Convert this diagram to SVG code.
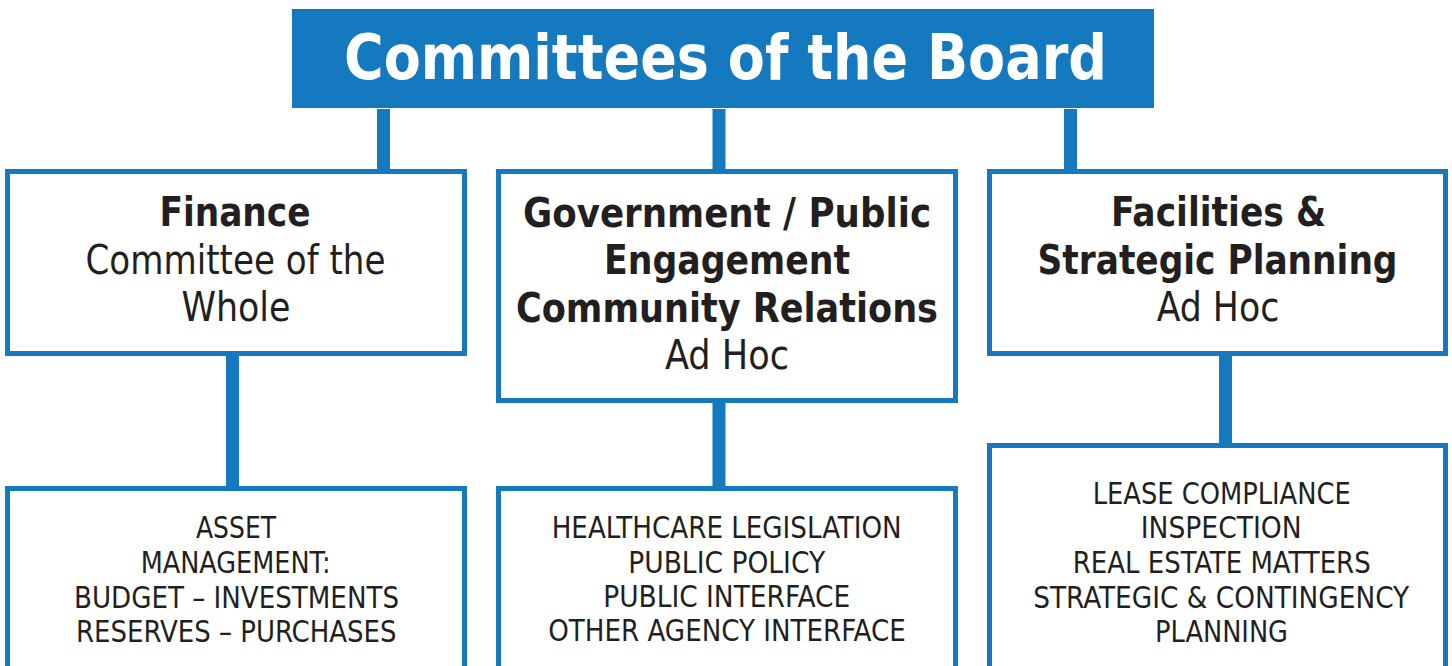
<svg xmlns="http://www.w3.org/2000/svg" width="1452" height="666" viewBox="0 0 1452 666">
<style>
.box{fill:#ffffff;stroke:#1479bf;stroke-width:5}
.conn{stroke:#1479bf;stroke-width:13;fill:none}
.t{font-family:"DejaVu Sans Condensed","DejaVu Sans",sans-serif;fill:#231f20;text-anchor:middle}
.b{font-weight:bold;font-size:41px}
.r{font-size:40.5px}
.s{font-size:30px}
.title{font-family:"DejaVu Sans Condensed","DejaVu Sans",sans-serif;font-weight:bold;font-size:63px;fill:#ffffff;text-anchor:middle}
</style>
<rect x="0" y="0" width="1452" height="666" fill="#ffffff"/>
<g id="connectors">
<line class="conn" x1="383.5" y1="109" x2="383.5" y2="171"/>
<line class="conn" x1="719" y1="109" x2="719" y2="171"/>
<line class="conn" x1="1070.5" y1="109" x2="1070.5" y2="171"/>
<line class="conn" x1="232.5" y1="354" x2="232.5" y2="488"/>
<line class="conn" x1="719" y1="400" x2="719" y2="488"/>
<line class="conn" x1="1225.5" y1="354" x2="1225.5" y2="445"/>
</g>
<g id="title">
<rect x="292" y="9" width="862" height="99" fill="#1479bf"/>
<text class="title" x="725.5" y="79" textLength="763" lengthAdjust="spacingAndGlyphs">Committees of the Board</text>
</g>
<g id="finance">
<rect class="box" x="7.5" y="171.5" width="457" height="182"/>
<text class="t b" x="235" y="226" textLength="151" lengthAdjust="spacingAndGlyphs">Finance</text>
<text class="t r" x="235.5" y="273.5" textLength="300" lengthAdjust="spacingAndGlyphs">Committee of the</text>
<text class="t r" x="236" y="321" textLength="109" lengthAdjust="spacingAndGlyphs">Whole</text>
</g>
<g id="government">
<rect class="box" x="498.5" y="171.5" width="457" height="229"/>
<text class="t b" x="727" y="226.5" textLength="408" lengthAdjust="spacingAndGlyphs">Government / Public</text>
<text class="t b" x="727" y="274" textLength="246" lengthAdjust="spacingAndGlyphs">Engagement</text>
<text class="t b" x="727" y="321.5" textLength="422" lengthAdjust="spacingAndGlyphs">Community Relations</text>
<text class="t r" x="727" y="369" textLength="124" lengthAdjust="spacingAndGlyphs">Ad Hoc</text>
</g>
<g id="facilities">
<rect class="box" x="989.5" y="171.5" width="456" height="182"/>
<text class="t b" x="1218.5" y="225.5" textLength="215" lengthAdjust="spacingAndGlyphs">Facilities &amp;</text>
<text class="t b" x="1217.5" y="273.5" textLength="360" lengthAdjust="spacingAndGlyphs">Strategic Planning</text>
<text class="t r" x="1218" y="321" textLength="122.5" lengthAdjust="spacingAndGlyphs">Ad Hoc</text>
</g>
<g id="finance-duties">
<rect class="box" x="7.5" y="488.5" width="457" height="220"/>
<text class="t s" x="236" y="538.3" textLength="80" lengthAdjust="spacingAndGlyphs">ASSET</text>
<text class="t s" x="235.7" y="573.3" textLength="190" lengthAdjust="spacingAndGlyphs">MANAGEMENT:</text>
<text class="t s" x="236.5" y="608" textLength="325" lengthAdjust="spacingAndGlyphs">BUDGET – INVESTMENTS</text>
<text class="t s" x="236.3" y="641.7" textLength="320.5" lengthAdjust="spacingAndGlyphs">RESERVES – PURCHASES</text>
</g>
<g id="government-duties">
<rect class="box" x="498.5" y="488.5" width="457" height="220"/>
<text class="t s" x="726.7" y="537.7" textLength="350" lengthAdjust="spacingAndGlyphs">HEALTHCARE LEGISLATION</text>
<text class="t s" x="726.7" y="572.7" textLength="197" lengthAdjust="spacingAndGlyphs">PUBLIC POLICY</text>
<text class="t s" x="726.7" y="607.3" textLength="247" lengthAdjust="spacingAndGlyphs">PUBLIC INTERFACE</text>
<text class="t s" x="727" y="640.7" textLength="357.5" lengthAdjust="spacingAndGlyphs">OTHER AGENCY INTERFACE</text>
</g>
<g id="facilities-duties">
<rect class="box" x="989.5" y="445.5" width="456" height="260"/>
<text class="t s" x="1221.7" y="504" textLength="258" lengthAdjust="spacingAndGlyphs">LEASE COMPLIANCE</text>
<text class="t s" x="1221.2" y="538.3" textLength="161" lengthAdjust="spacingAndGlyphs">INSPECTION</text>
<text class="t s" x="1221.7" y="572.7" textLength="298" lengthAdjust="spacingAndGlyphs">REAL ESTATE MATTERS</text>
<text class="t s" x="1221.2" y="607.7" textLength="376" lengthAdjust="spacingAndGlyphs">STRATEGIC &amp; CONTINGENCY</text>
<text class="t s" x="1221.5" y="641.7" textLength="133" lengthAdjust="spacingAndGlyphs">PLANNING</text>
</g>
</svg>
